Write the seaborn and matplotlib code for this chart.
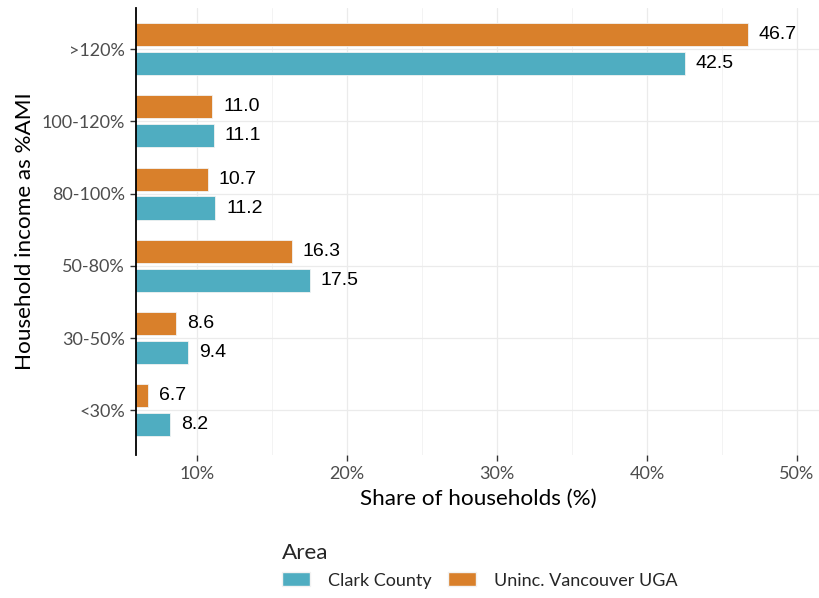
import pandas as pd
import numpy as np
import seaborn as sns
import matplotlib.pyplot as plt
from matplotlib.patches import Patch
from matplotlib.ticker import FixedLocator, FuncFormatter

# ==========================================
# DATA
# ==========================================

income_groups = [">120%", "100-120%", "80-100%", "50-80%", "30-50%", "<30%"]

clark_county = [42.5, 11.1, 11.2, 17.5, 9.4, 8.2]
uninc_vancouver = [46.7, 11.0, 10.7, 16.3, 8.6, 6.7]

area_names = ["Clark County", "Uninc. Vancouver UGA"]
area_colors = {"Clark County": "#4FADC1", "Uninc. Vancouver UGA": "#D9802B"}

df = pd.DataFrame({
    "group": income_groups * 2,
    "share": clark_county + uninc_vancouver,
    "area": [area_names[0]] * len(income_groups) + [area_names[1]] * len(income_groups),
})

# ==========================================
# PLOT
# ==========================================

sns.set_style("white")
plt.rcParams["font.family"] = ["Lato", "DejaVu Sans"]

fig = plt.figure(figsize=(8.2, 5.98), dpi=100)
ax = fig.add_axes([136 / 820, 1 - 455 / 598, 1 - 136 / 820, (455 - 8) / 598])

sns.barplot(
    data=df,
    x="share",
    y="group",
    hue="area",
    order=income_groups,
    hue_order=[area_names[1], area_names[0]],
    palette=area_colors,
    saturation=1,
    orient="h",
    width=0.8,
    gap=0.2,
    edgecolor="#F2F2F2",
    linewidth=0.6,
    legend=False,
    ax=ax,
)

# value labels
for container in ax.containers:
    ax.bar_label(
        container,
        fmt="%.1f",
        padding=8,
        fontsize=14,
        family="Liberation Sans",
        color="black",
    )

ax.set_xlim(5.93, 51.53)
ax.set_ylim(5.62, -0.57)

ax.xaxis.set_major_locator(FixedLocator([10, 20, 30, 40, 50]))
ax.xaxis.set_minor_locator(FixedLocator([15, 25, 35, 45]))
ax.xaxis.set_major_formatter(FuncFormatter(lambda v, p: f"{v:.0f}%"))

ax.grid(True, which="major", color="#EBEBEB", linewidth=0.9)
ax.grid(True, which="minor", axis="x", color="#F3F3F3", linewidth=0.7)
ax.set_axisbelow(True)

for side in ["top", "right", "bottom"]:
    ax.spines[side].set_visible(False)
ax.spines["left"].set_color("black")
ax.spines["left"].set_linewidth(1.3)

ax.tick_params(axis="both", which="major", labelsize=13, labelcolor="#4D4D4D",
               color="#333333", length=4, width=1.0, pad=4)
ax.tick_params(axis="x", which="minor", length=0)
ax.tick_params(axis="x", which="major", bottom=True)
ax.tick_params(axis="y", which="major", left=True)

ax.set_xlabel("Share of households (%)", fontsize=16.2, color="black", labelpad=5)
ax.set_ylabel("Household income as %AMI", fontsize=16.2, color="black", labelpad=5)

# legend
handles = [Patch(facecolor=area_colors[a], edgecolor="#F2F2F2", label=a) for a in area_names]
fig.legend(
    handles=handles,
    title="Area",
    loc="center",
    bbox_to_anchor=(480 / 820, 1 - 566 / 598),
    ncol=2,
    frameon=False,
    fontsize=13,
    title_fontsize=16.2,
    alignment="left",
    handlelength=1.55,
    handleheight=0.8,
    handletextpad=1.0,
    columnspacing=0.9,
)

plt.savefig("out.png", dpi=100)
